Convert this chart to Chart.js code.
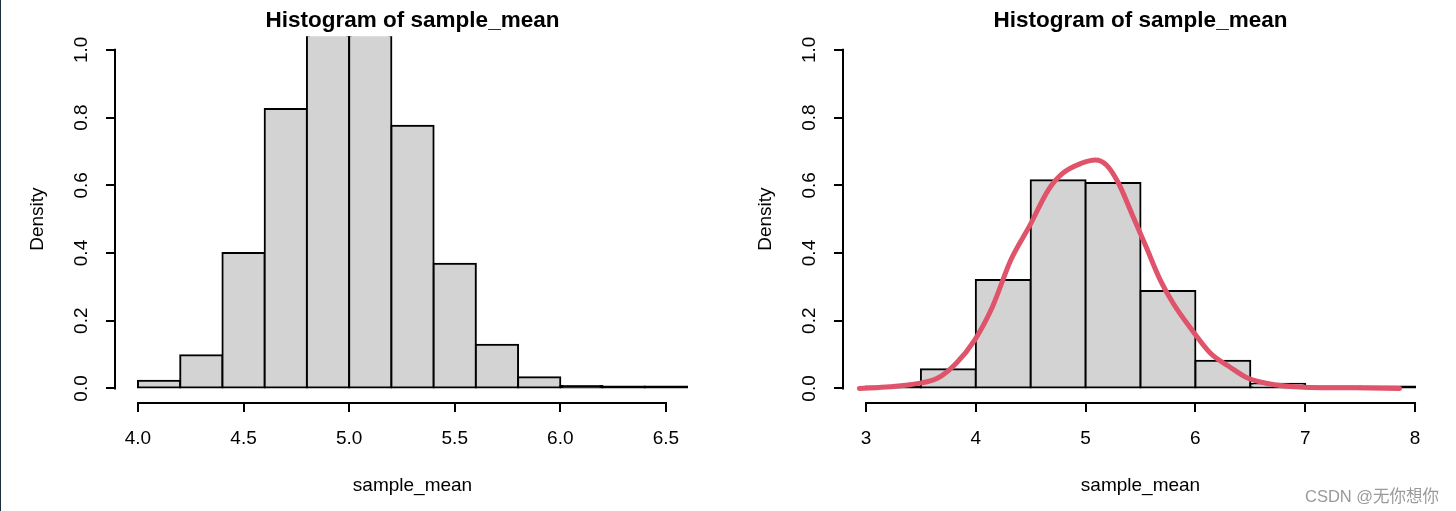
<!DOCTYPE html>
<html>
<head>
<meta charset="utf-8">
<script src="https://cdn.jsdelivr.net/npm/chart.js@4.4.1/dist/chart.umd.min.js"></script>
<style>
  html, body { margin: 0; padding: 0; background: #fff; }
  body { width: 1456px; height: 511px; position: relative; overflow: hidden; }
  .panel { position: absolute; top: 0; width: 728px; height: 511px; }
  #edge { position: absolute; left: 0; top: 0; width: 1px; height: 511px; background: #1d2d3c; }
  #mark { position: absolute; left: 1305px; top: 483px; font: 16.5px "Liberation Sans", Arial, "Noto Sans CJK SC", sans-serif; color: #9a9a9a; white-space: nowrap; }
</style>
</head>
<body>
<div class="panel" style="left:0"><canvas id="left" width="728" height="511"></canvas></div>
<div class="panel" style="left:728px"><canvas id="right" width="728" height="511"></canvas></div>
<div id="edge"></div>
<div id="mark">CSDN @无你想你</div>
<script>
// left histogram, breaks every 0.2
var leftBreaks = [4.0, 4.2, 4.4, 4.6, 4.8, 5.0, 5.2, 5.4, 5.6, 5.8, 6.0, 6.2, 6.4, 6.6];
var leftDensity = [0.023, 0.098, 0.400, 0.825, 1.170, 1.160, 0.776, 0.368, 0.129, 0.033, 0.007, 0.002, 0.002];
var leftTicks = [4.0, 4.5, 5.0, 5.5, 6.0, 6.5];

// right histogram, breaks every 0.5
var rightBreaks = [3.0, 3.5, 4.0, 4.5, 5.0, 5.5, 6.0, 6.5, 7.0, 7.5, 8.0];
var rightDensity = [0.002, 0.057, 0.320, 0.615, 0.607, 0.288, 0.082, 0.014, 0.002, 0.002];
var rightTicks = [3, 4, 5, 6, 7, 8];

// kernel density curve
var densX = [2.94, 3.22, 3.48, 3.65, 3.82, 3.99, 4.15, 4.32, 4.49, 4.66, 4.79, 4.96, 5.09, 5.19, 5.30, 5.42, 5.55, 5.68, 5.80, 5.97, 6.14, 6.31, 6.48, 6.74, 7.03, 7.45, 7.86];
var densY = [0.000, 0.005, 0.015, 0.030, 0.074, 0.143, 0.240, 0.380, 0.480, 0.586, 0.635, 0.665, 0.675, 0.660, 0.606, 0.517, 0.419, 0.320, 0.250, 0.172, 0.103, 0.064, 0.030, 0.010, 0.003, 0.002, 0.000];

var yTicks = [0, 0.2, 0.4, 0.6, 0.8, 1.0];

var FONT = '"Liberation Sans", Arial, sans-serif';

// R style axes: line only between first and last tick
var rAxisLines = {
    id: 'rAxisLines',
    afterDraw: function (chart) {
        var ctx = chart.ctx, xs = chart.scales.x, ys = chart.scales.y;
        var xt = xs.ticks, yt = ys.ticks;
        ctx.save();
        ctx.strokeStyle = '#000';
        ctx.lineWidth = 2;
        ctx.lineCap = 'square';
        ctx.beginPath();
        ctx.moveTo(xs.getPixelForValue(xt[0].value), xs.top + 1);
        ctx.lineTo(xs.getPixelForValue(xt[xt.length - 1].value), xs.top + 1);
        ctx.moveTo(ys.right - 1, ys.getPixelForValue(yt[0].value));
        ctx.lineTo(ys.right - 1, ys.getPixelForValue(yt[yt.length - 1].value));
        ctx.stroke();
        ctx.restore();
    }
};

function histBars(breaks, dens) {
    return {
        type: 'bar',
        data: dens.map(function (d, i) { return { x: (breaks[i] + breaks[i + 1]) / 2, y: d }; }),
        // very low bars are just their outline in R, i.e. a black strip
        backgroundColor: function (c) { return c.raw && c.raw.y < 0.012 ? '#000' : '#D3D3D3'; },
        borderColor: '#000',
        borderWidth: 2,
        inflateAmount: 1,
        borderSkipped: false,
        minBarLength: 2, // chart.js takes half the zero tick width off this
        categoryPercentage: 1,
        barPercentage: 1,
        clip: 0,
        order: 1
    };
}

function makeOptions(breaks, ticks, fmt) {
    var lo = breaks[0], hi = breaks[breaks.length - 1], pad = (hi - lo) * 0.04;
    return {
        responsive: false,
        animation: false,
        layout: { padding: { left: 0, right: 19, top: 0, bottom: 0 } },
        plugins: {
            legend: { display: false },
            tooltip: { enabled: false },
            title: {
                display: true,
                text: 'Histogram of sample_mean',
                fullSize: false,
                color: '#000',
                font: { family: FONT, size: 22.5, weight: 'bold' },
                padding: { top: 7.5, bottom: 1.8 }
            }
        },
        scales: {
            x: {
                type: 'linear',
                offset: false,
                min: lo - pad,
                max: hi + pad,
                afterBuildTicks: function (s) { s.ticks = ticks.map(function (v) { return { value: v }; }); },
                afterFit: function (s) { s.height = 109; },
                border: { display: false },
                grid: { offset: false, drawOnChartArea: false, drawTicks: true, tickLength: 10, color: '#000', lineWidth: 2 },
                ticks: { color: '#000', font: { family: FONT, size: 19 }, padding: 15.6, maxRotation: 0, autoSkip: false,
                    callback: function (v) { return fmt(v); } },
                title: { display: true, text: 'sample_mean', color: '#000', font: { family: FONT, size: 19 }, padding: { top: 0, bottom: 13.6 } }
            },
            y: {
                min: -0.04,
                max: 1.04,
                afterBuildTicks: function (s) { s.ticks = yTicks.map(function (v) { return { value: v }; }); },
                afterFit: function (s) { s.width = 116; },
                border: { display: false },
                grid: { drawOnChartArea: false, drawTicks: true, tickLength: 10, color: '#000', lineWidth: 2 },
                ticks: { color: '#000', font: { family: FONT, size: 19 }, padding: 11, minRotation: 90, maxRotation: 90,
                    crossAlign: 'center', autoSkip: false,
                    callback: function (v) { return v.toFixed(1); } },
                title: { display: true, text: 'Density', color: '#000', font: { family: FONT, size: 19 }, padding: { top: 26.6, bottom: 0 } }
            }
        }
    };
}

new Chart(document.getElementById('left'), {
    type: 'bar',
    data: { datasets: [histBars(leftBreaks, leftDensity)] },
    options: makeOptions(leftBreaks, leftTicks, function (v) { return v.toFixed(1); }),
    plugins: [rAxisLines]
});

new Chart(document.getElementById('right'), {
    type: 'bar',
    data: {
        datasets: [
            histBars(rightBreaks, rightDensity),
            {
                type: 'line',
                data: densX.map(function (x, i) { return { x: x, y: densY[i] }; }),
                borderColor: '#DF536B',
                borderWidth: 5,
                borderCapStyle: 'round',
                borderJoinStyle: 'round',
                pointRadius: 0,
                fill: false,
                tension: 0.4,
                cubicInterpolationMode: 'monotone',
                order: 0
            }
        ]
    },
    options: makeOptions(rightBreaks, rightTicks, function (v) { return String(v); }),
    plugins: [rAxisLines]
});
</script>
</body>
</html>
